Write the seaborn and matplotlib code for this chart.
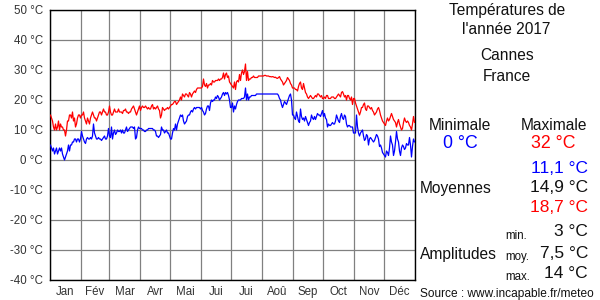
import numpy as np
import pandas as pd
import matplotlib
matplotlib.use("Agg")
import matplotlib.pyplot as plt
import seaborn as sns

# ---------------- data ----------------
months = ["Jan", "Fév", "Mar", "Avr", "Mai", "Jui", "Jui", "Aoû", "Sep", "Oct", "Nov", "Déc"]
month_days = [31, 28, 31, 30, 31, 30, 31, 31, 30, 31, 30, 31]
y_ticks = [-40, -30, -20, -10, 0, 10, 20, 30, 40, 50]

tmax_jan = [15, 14, 13, 11, 10, 12, 10, 11, 13, 10, 12, 11, 11, 10, 10, 8, 10, 13, 13, 15, 15, 14, 16, 13, 14, 11, 12, 14, 15, 15, 14]
tmax_feb = [15, 15, 16, 14, 13, 12, 14, 13, 12, 14, 15, 16, 15, 14, 14, 13, 14, 15, 16, 16, 15, 16, 17, 16, 16, 15, 15, 16]
tmax_mar = [18, 16, 15, 15, 16, 17, 16, 16, 16, 17, 16, 16, 16, 15.5, 16.5, 16.5, 17, 16, 16, 15.5, 16, 16, 17, 17.5, 18, 17, 16, 15, 16, 17, 18]
tmax_apr = [16.5, 17.5, 18, 17.5, 17.5, 18, 17.5, 17, 17.5, 17, 17, 18, 18.5, 17, 17.5, 17, 17.5, 18, 17, 16.5, 14, 15, 17.5, 17, 16.5, 17, 17, 17.5, 17, 17.5]
tmax_may = [18, 18.5, 18.5, 19, 19.5, 19.5, 18.5, 19, 19.5, 20, 21, 20, 22, 21.5, 21, 22, 22, 21.5, 21, 22.5, 22, 21, 22, 22.5, 23, 22.5, 23.5, 24, 24, 24, 24]
tmax_jun = [24, 24.5, 27, 25, 24.5, 25.5, 24, 25, 25, 25.5, 25, 26.5, 26, 26, 26.5, 26.5, 26.5, 27, 26.5, 27, 27, 27.5, 29, 27, 28.5, 29, 27.5, 28, 26, 25.5]
tmax_jul = [25, 24.5, 24, 26, 23.5, 26, 26.5, 26, 28.5, 26.5, 29, 30, 28.5, 29.5, 32, 26.5, 29.5, 26.5, 27, 27, 27.5, 27.5, 28, 27.5, 27.5, 27.5, 27.5, 28, 28, 28, 28]
tmax_aug = [28, 28, 28.2, 28.2, 28, 28, 28, 27.8, 27.8, 27.7, 27.8, 27.7, 27.5, 27.6, 27.3, 27.2, 27.5, 27.8, 27, 26.5, 26, 25, 25.5, 26, 26.5, 27.5, 27, 26.5, 25.5, 25, 24]
tmax_sep = [24, 24, 23.5, 23.5, 23, 24.5, 25.5, 26, 24, 23.5, 25.5, 24, 22.5, 22, 21, 20.5, 21, 21.5, 21, 20.5, 20.5, 21, 21.5, 21, 22, 22, 21.5, 21, 21.5, 20.5]
tmax_oct = [20.5, 21, 20.5, 21.5, 21.5, 20.5, 20.5, 20.5, 21, 21, 21, 20.5, 20.5, 21, 21.5, 22, 21.5, 21, 22.5, 22.8, 22, 21, 21.5, 20, 21.5, 21.5, 20.5, 20, 21, 18.5, 20.5]
tmax_nov = [20.5, 19, 18, 17, 16, 15, 16, 17.5, 17.5, 18.5, 19, 17, 16.5, 18, 18, 17.5, 17, 17.5, 16.5, 16, 15, 15.5, 16, 17, 17.5, 16.5, 15, 14, 13, 12.5]
tmax_dec = [12, 11.5, 13, 14, 13, 13.5, 14.5, 15.5, 14.5, 13.5, 13, 12.5, 11, 12.5, 13.5, 12, 11, 10, 10.5, 12.5, 14, 13, 12.5, 13, 12.5, 11.5, 11, 10, 12, 14.5, 12.5]

tmin_jan = [5, 4, 3, 4, 2, 3, 4, 2, 3, 4, 3, 4, 2, 1, 0, 1, 2, 3, 5, 3, 5, 5, 6, 6, 7, 7, 6, 7, 7, 6, 7]
tmin_feb = [9.5, 8, 7, 6, 5.5, 7, 7.5, 7, 7, 7.5, 7, 8, 12, 9, 8, 7, 7, 7.5, 7, 7, 6.5, 7, 7.5, 8, 7, 7, 8, 10.5]
tmin_mar = [8, 7.5, 11, 7, 9, 10, 8.5, 9, 10, 9.5, 9.5, 10, 9, 10, 9, 9, 10, 11, 9.5, 10, 10.5, 11, 11, 11, 10.5, 11, 7, 7.5, 10, 11, 10.5]
tmin_apr = [10.5, 10.5, 10, 10, 9.5, 9.5, 10, 10, 10.5, 10.5, 10.5, 10.5, 10.5, 10, 10, 9.5, 8, 8, 7.5, 8, 8.5, 11, 10, 10, 9, 9.5, 10, 9, 9, 8]
tmin_may = [7, 7, 9, 10.5, 10, 12, 10, 12, 13, 14, 15, 14.5, 15, 13, 12, 12.5, 13, 14.5, 15, 15, 16, 16.5, 16, 17, 17.5, 17, 17.5, 17.5, 17.5, 17.5, 17]
tmin_jun = [17.5, 16.5, 16, 15, 15.5, 17, 18, 18, 16.5, 19, 20, 19.5, 20, 20, 21, 20.5, 21.5, 21, 20, 20.5, 21, 22, 22.5, 21.5, 22.5, 22, 22.5, 21.5, 20, 17.5]
tmin_jul = [17.5, 19, 16, 18, 17, 18.5, 19.5, 20, 20, 20, 20.5, 20.5, 20.5, 21, 24, 20, 22, 20, 21, 21, 21.5, 21.5, 21.5, 21.5, 21.5, 22, 22, 22, 22, 22, 22]
tmin_aug = [22, 22, 22, 22, 22, 22, 22, 22, 22, 22, 22, 22, 22, 22, 22, 22, 21.5, 20.5, 20, 18.5, 17.5, 18.5, 19.5, 19, 18.5, 19.5, 20.5, 21.5, 22, 20, 15]
tmin_sep = [15, 14, 13.5, 16, 14.5, 13, 12.5, 17, 14.5, 13.5, 14, 13, 14.5, 13.5, 12.5, 11.5, 12.5, 13, 15, 14, 13.5, 14.5, 13.5, 14.5, 15.5, 15, 15, 14.5, 15.5, 16.5]
tmin_oct = [14.5, 15.5, 14, 13.5, 11, 12, 11.5, 11.5, 12, 12.5, 12, 12, 13, 15, 14, 13, 12.5, 14.5, 15.5, 14, 13.5, 15, 14.5, 12, 11, 11.5, 11.5, 11, 11, 11, 9]
tmin_nov = [9, 9, 15, 11, 9, 8, 9, 9.5, 10, 8, 6.5, 7, 8.5, 8, 5, 7, 7.5, 7, 6.5, 6, 6.5, 7.5, 8.5, 8, 7, 4.5, 5, 4, 2.5, 2]
tmin_dec = [1.5, 1, 3, 2.5, 1.5, 4, 8, 6, 5, 1.5, 3, 6, 9.5, 7, 6, 3, 1.5, 4, 5, 4.5, 3.5, 4, 5.5, 5, 5, 7.5, 5, 1, 4.5, 7, 6]

tmax = (tmax_jan + tmax_feb + tmax_mar + tmax_apr + tmax_may + tmax_jun +
        tmax_jul + tmax_aug + tmax_sep + tmax_oct + tmax_nov + tmax_dec)
tmin = (tmin_jan + tmin_feb + tmin_mar + tmin_apr + tmin_may + tmin_jun +
        tmin_jul + tmin_aug + tmin_sep + tmin_oct + tmin_nov + tmin_dec)

df = pd.DataFrame({"day": np.arange(len(tmax)) + 0.5, "tmax": tmax, "tmin": tmin})

# ---------------- style ----------------
sns.set_theme(style="white")
plt.rcParams["font.family"] = ["Liberation Sans", "DejaVu Sans"]

W, H = 600, 300
fig = plt.figure(figsize=(W / 100, H / 100), dpi=100)
ax = fig.add_axes([50 / W, 20 / H, 365 / W, 270 / H])

sns.lineplot(data=df, x="day", y="tmax", color="#ff0000", lw=0.9, estimator=None, ax=ax, zorder=3)
sns.lineplot(data=df, x="day", y="tmin", color="#0000ff", lw=0.9, estimator=None, ax=ax, zorder=3)

bounds = np.cumsum([0] + month_days)
centers = (bounds[:-1] + bounds[1:]) / 2
ax.set_xlim(0, 365)
ax.set_ylim(-40, 50)
ax.set_xticks(bounds)
ax.set_xticklabels([])
ax.set_xticks(centers, minor=True)
ax.set_xticklabels(months, minor=True, fontsize=8.3, color="#333333")
ax.set_yticks(y_ticks)
ax.set_yticklabels([f"{v} °C" for v in y_ticks], fontsize=8.3, color="#333333")
ax.tick_params(which="both", length=0)
ax.tick_params(axis="x", which="minor", pad=4)
ax.tick_params(axis="y", pad=5)
ax.grid(True, which="major", color="#808080", lw=0.9)
ax.set_axisbelow(True)
ax.set_xlabel("")
ax.set_ylabel("")
for s in ax.spines.values():
    s.set_visible(True)
    s.set_color("black")
    s.set_linewidth(1)


def px(x, y, s, size, color="#111111", ha="center", va="center"):
    fig.text(x / W, 1 - y / H, s, fontsize=size, color=color, ha=ha, va=va)


px(507, 10, "Températures de", 11.2)
px(506, 30, "l'année 2017", 11.2)
px(507, 56, "Cannes", 11.2)
px(507, 76, "France", 11.2)
px(460, 125, "Minimale", 11.2)
px(554, 125, "Maximale", 11.2)
px(460, 143, "0 °C", 12.8, color="#0000ff")
px(553, 143, "32 °C", 12.8, color="#ff0000")
px(588, 168, "11,1 °C", 12.5, color="#0000ff", ha="right")
px(420, 189, "Moyennes", 11.2, ha="left")
px(588, 188, "14,9 °C", 12.5, ha="right")
px(588, 208, "18,7 °C", 12.5, color="#ff0000", ha="right")
px(505, 236, "min.", 8.3, ha="left")
px(588, 232, "3 °C", 12.5, ha="right")
px(420, 255, "Amplitudes", 11.2, ha="left")
px(505, 257, "moy.", 8.3, ha="left")
px(588, 253, "7,5 °C", 12.5, ha="right")
px(505, 277, "max.", 8.3, ha="left")
px(588, 273, "14 °C", 12.5, ha="right")
px(420, 294, "Source : www.incapable.fr/meteo", 8.6, ha="left")

fig.savefig("out.png", dpi=100)
